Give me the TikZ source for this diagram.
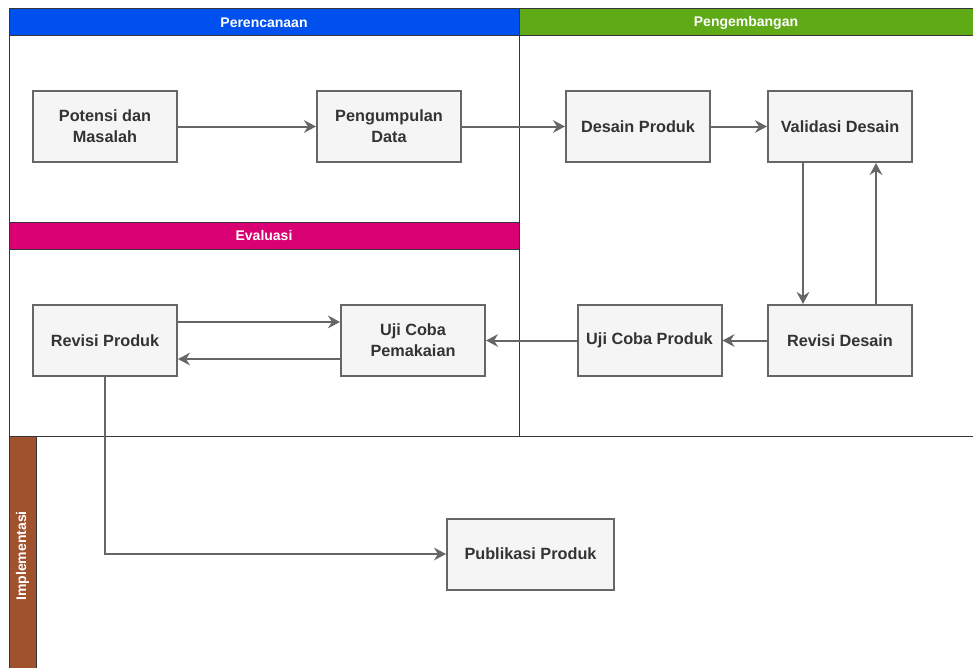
\documentclass[tikz,border=0pt]{standalone}
\usepackage{fontspec}
\setmainfont{Liberation Sans}
\usepackage{xcolor}
\usetikzlibrary{arrows.meta,positioning,calc}
\definecolor{plan}{HTML}{0050EF}
\definecolor{dev}{HTML}{60A917}
\definecolor{eval}{HTML}{D80073}
\definecolor{impl}{HTML}{A0522D}
\definecolor{laneline}{HTML}{363636}
\definecolor{boxline}{HTML}{666666}
\definecolor{boxbg}{HTML}{F5F5F5}
\definecolor{boxtext}{HTML}{333333}

\begin{document}
\begin{tikzpicture}[x=0.75pt,y=-0.75pt,
  proc/.style={draw=boxline,fill=boxbg,line width=1.5pt,minimum width=108pt,
               minimum height=53.25pt,align=center,inner sep=0pt,text=boxtext,
               font=\bfseries\fontsize{12.2}{15.75}\selectfont},
  lane/.style={draw=laneline,line width=0.75pt},
  head/.style={text=white,font=\bfseries\fontsize{10.5}{12}\selectfont},
  arr/.style={-{Stealth[length=9pt,width=9.5pt,inset=3pt]},draw=boxline,line width=1.5pt}
]
\useasboundingbox (0,0) rectangle (973,667);
% lanes
\draw[lane] (9,9) rectangle (519,222);
\draw[lane] (519,9) rectangle (980,436);
\draw[lane] (9,222) rectangle (519,436);
\draw[lane] (9,436) rectangle (980,675);
\filldraw[lane,fill=plan] (9,9) rectangle (519,36);
\filldraw[lane,fill=dev] (519,9) rectangle (980,36);
\filldraw[lane,fill=eval] (9,222) rectangle (519,249);
\filldraw[lane,fill=impl] (9,436) rectangle (36,675);
\node[head] (hplan) at (264,22.5) {Perencanaan};
\node[head] (hdev) at (746,22.5) {Pengembangan};
\node[head] (heval) at (264,235.5) {Evaluasi};
\node[head,rotate=90] (himpl) at (22.5,556) {Implementasi};

% steps
\node[proc] (pot) at (105,126.5) {Potensi dan\\Masalah};
\node[proc] (data) at (389,126.5) {Pengumpulan\\Data};
\node[proc] (des) at (638,126.5) {Desain Produk};
\node[proc] (val) at (840,126.5) {Validasi Desain};
\node[proc] (revd) at (840,340.5) {Revisi Desain};
\node[proc] (ujip) at (649.5,340.5) {Uji Coba Produk};
\node[proc] (ujim) at (413,340.5) {Uji Coba\\Pemakaian};
\node[proc] (revp) at (105,340.5) {Revisi Produk};
\node[proc,minimum width=125.25pt] (pub) at (530.5,554) {Publikasi Produk};

\draw[arr] (pot) -- (data);
\draw[arr] (data) -- (des);
\draw[arr] (des) -- (val);
\draw[arr] ([xshift=-27.75pt]val.south) -- ([xshift=-27.75pt]revd.north);
\draw[arr] ([xshift=27pt]revd.north) -- ([xshift=27pt]val.south);
\draw[arr] (revd) -- (ujip);
\draw[arr] (ujip) -- (ujim);
\draw[arr] ([yshift=13.9pt]revp.east) -- ([yshift=13.9pt]ujim.west);
\draw[arr] ([yshift=-13.9pt]ujim.west) -- ([yshift=-13.9pt]revp.east);
\draw[arr] (revp.south) |- (pub.west);
\end{tikzpicture}
\end{document}
